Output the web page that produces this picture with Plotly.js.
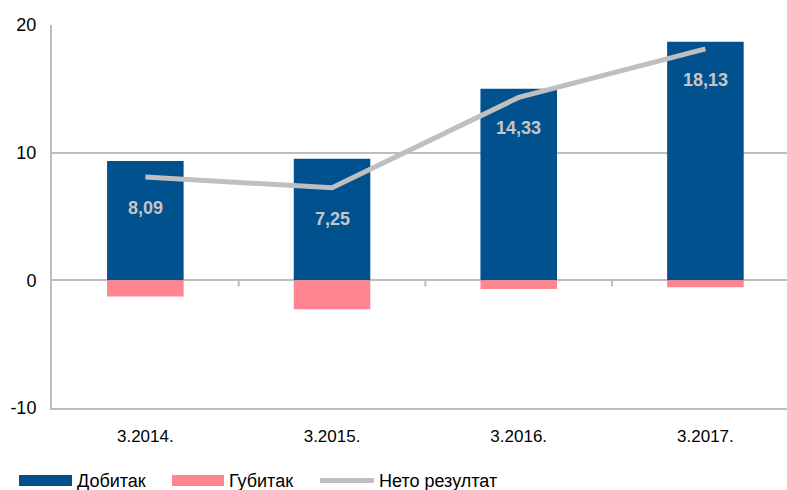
<!DOCTYPE html>
<html>
<head>
<meta charset="utf-8">
<script src="https://cdn.plot.ly/plotly-3.0.1.min.js"></script>
<style>html,body{margin:0;padding:0;background:#fff;}#chart{width:787px;height:490px;}</style>
</head>
<body>
<div id="chart"></div>
<script>
const categories = ['3.2014.', '3.2015.', '3.2016.', '3.2017.'];
const profit = [9.35, 9.52, 15.01, 18.68];
const loss = [-1.26, -2.27, -0.68, -0.55];
const net = [8.09, 7.25, 14.33, 18.13];
const seriesNames = ['Добитак', 'Губитак', 'Нето резултат'];
const yTicks = [-10, 0, 10, 20];

const blue = '#02518F', pink = '#FF8591', grayLine = '#BFBFBF', gridC = '#BDBDBD';
const font = 'Liberation Sans, Arial, sans-serif';

const traces = [
  {type: 'bar', x: categories, y: profit, name: seriesNames[0], marker: {color: blue}, width: 0.41, hoverinfo: 'skip'},
  {type: 'bar', x: categories, y: loss, name: seriesNames[1], marker: {color: pink}, width: 0.41, hoverinfo: 'skip'},
  {type: 'scatter', mode: 'lines', x: categories, y: net, name: seriesNames[2], line: {color: grayLine, width: 5}, hoverinfo: 'skip'}
];

const annotations = categories.map((c, i) => ({
  x: c, y: net[i], xref: 'x', yref: 'y', yshift: -31, showarrow: false,
  text: '<b>' + net[i].toFixed(2).replace('.', ',') + '</b>',
  font: {family: font, size: 18, color: '#C6C6C6'}
}));

// custom legend
const W = 735, H = 383, L = 52, T = 25;
const px = v => (v - L) / W;
const py = v => (T + H - v) / H;
const legendItems = [
  {x0: 19, x1: 72, tx: 75, kind: 'rect', color: blue},
  {x0: 172, x1: 224, tx: 227, kind: 'rect', color: pink},
  {x0: 320, x1: 374, tx: 377, kind: 'line', color: grayLine}
];
const shapes = [];
legendItems.forEach((it, i) => {
  if (it.kind === 'rect') {
    shapes.push({type: 'rect', xref: 'paper', yref: 'paper', x0: px(it.x0), x1: px(it.x1), y0: py(475), y1: py(486), fillcolor: it.color, line: {width: 0}});
  } else {
    shapes.push({type: 'line', xref: 'paper', yref: 'paper', x0: px(it.x0), x1: px(it.x1), y0: py(480.5), y1: py(480.5), line: {color: it.color, width: 5}});
  }
  annotations.push({xref: 'paper', yref: 'paper', x: px(it.tx), y: py(481), xanchor: 'left', yanchor: 'middle', showarrow: false,
    text: seriesNames[i], font: {family: font, size: 18, color: '#000'}});
});
// small tick marks on the zero line between categories
[0.5, 1.5, 2.5].forEach(b => {
  shapes.push({type: 'line', xref: 'x', yref: 'y', x0: b, x1: b, ysizemode: 'pixel', yanchor: 0, y0: 0, y1: -6, line: {color: gridC, width: 2}});
});

const layout = {
  width: 787, height: 490,
  margin: {l: L, r: 0, t: T, b: 490 - T - H, pad: 0},
  paper_bgcolor: '#fff', plot_bgcolor: '#fff',
  barmode: 'relative',
  showlegend: false,
  font: {family: font, color: '#000'},
  xaxis: {
    type: 'category', range: [-0.5, 3.437], showgrid: false, zeroline: false,
    showline: true, linecolor: gridC, linewidth: 2, ticks: '',
    tickfont: {family: font, size: 17, color: '#000'}, ticklabelstandoff: 12, fixedrange: true
  },
  yaxis: {
    range: [-10, 20], tickvals: yTicks, ticktext: yTicks.map(String),
    showgrid: true, gridcolor: gridC, gridwidth: 2, zeroline: true, zerolinecolor: gridC, zerolinewidth: 2,
    showline: true, linecolor: gridC, linewidth: 2, ticks: '',
    tickfont: {family: font, size: 18, color: '#000'}, ticklabelstandoff: 10, fixedrange: true
  },
  shapes: shapes,
  annotations: annotations
};

Plotly.newPlot('chart', traces, layout, {displayModeBar: false, staticPlot: true});
</script>
</body>
</html>
